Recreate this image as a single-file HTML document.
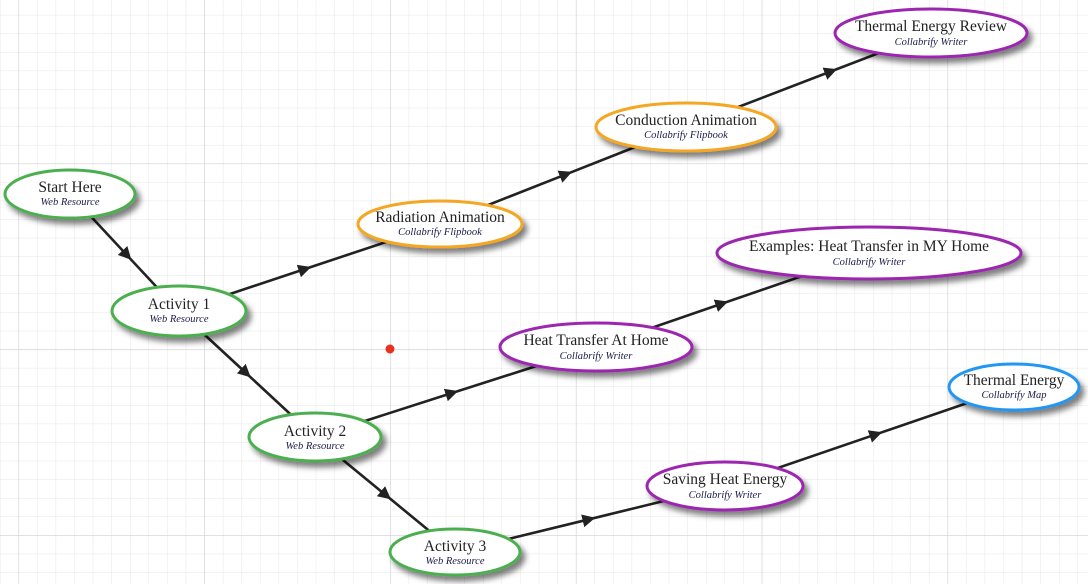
<!DOCTYPE html>
<html><head><meta charset="utf-8"><style>
html,body{margin:0;padding:0;background:#fff;}
svg{display:block;}
.t{font-family:"Liberation Serif",serif;font-size:15.5px;fill:#222;text-anchor:middle;}
.s{font-family:"Liberation Serif",serif;font-size:10.5px;font-style:italic;fill:#1a1a4a;text-anchor:middle;}
</style></head><body>
<svg width="1088" height="584" viewBox="0 0 1088 584" xmlns="http://www.w3.org/2000/svg">
<defs>
<pattern id="minor" x="18.5" y="163.5" width="18.58" height="18.58" patternUnits="userSpaceOnUse">
<path d="M0 0H18.58M0 0V18.58" stroke="#e6e6e6" stroke-width="1" fill="none"/>
</pattern>
<pattern id="major" x="18.5" y="163.5" width="185.8" height="185.8" patternUnits="userSpaceOnUse">
<path d="M0 0H185.8M0 0V185.8" stroke="#d2d2d2" stroke-width="1.2" fill="none"/>
</pattern>
<filter id="sh" x="-20%" y="-30%" width="150%" height="190%">
<feDropShadow dx="4" dy="5" stdDeviation="3" flood-color="#000" flood-opacity="0.5"/>
</filter>
<marker id="ar" viewBox="0 0 10 10" refX="5" refY="5" markerWidth="5" markerHeight="5" orient="auto">
<path d="M0 0L10 5L0 10z" fill="#222"/>
</marker>
</defs>
<rect width="1088" height="584" fill="url(#minor)"/>
<rect width="1088" height="584" fill="url(#major)"/>
<g stroke="#222" stroke-width="2.6" fill="none" marker-mid="url(#ar)">
<polyline points="70,194 127,255.2 179,311"/>
<polyline points="179,311 305,269 440,224"/>
<polyline points="440,224 566,174.3 686,127"/>
<polyline points="686,127 831,71.4 931,33"/>
<polyline points="179,311 246,373 315,437"/>
<polyline points="315,437 452,393 596,347"/>
<polyline points="596,347 722,303.6 869,253"/>
<polyline points="315,437 386,495.3 455,552"/>
<polyline points="455,552 589,519.3 725,486"/>
<polyline points="725,486 876,434.3 1014,387"/>
</g>
<circle cx="390" cy="349" r="4.5" fill="#e8321e"/>
<g stroke-width="3" fill="#fff" filter="url(#sh)">
<ellipse cx="70" cy="194" rx="65" ry="24" stroke="#4caf50"/>
<ellipse cx="179" cy="311" rx="67" ry="25" stroke="#4caf50"/>
<ellipse cx="315" cy="437" rx="66" ry="24" stroke="#4caf50"/>
<ellipse cx="455" cy="552" rx="65" ry="23" stroke="#4caf50"/>
<ellipse cx="440" cy="224" rx="82" ry="23" stroke="#f5a623"/>
<ellipse cx="686" cy="127" rx="90" ry="24" stroke="#f5a623"/>
<ellipse cx="931" cy="33" rx="96" ry="24" stroke="#9c27b0"/>
<ellipse cx="869" cy="253" rx="152" ry="26" stroke="#9c27b0"/>
<ellipse cx="596" cy="347" rx="96" ry="24" stroke="#9c27b0"/>
<ellipse cx="725" cy="486" rx="78" ry="24" stroke="#9c27b0"/>
<ellipse cx="1014" cy="387" rx="65" ry="23" stroke="#2196f3"/>
</g>
<text class="t" x="70" y="192">Start Here</text><text class="s" x="70" y="205">Web Resource</text>
<text class="t" x="179" y="309">Activity 1</text><text class="s" x="179" y="322">Web Resource</text>
<text class="t" x="315" y="436">Activity 2</text><text class="s" x="315" y="449">Web Resource</text>
<text class="t" x="455" y="551">Activity 3</text><text class="s" x="455" y="564">Web Resource</text>
<text class="t" x="440" y="222">Radiation Animation</text><text class="s" x="440" y="235">Collabrify Flipbook</text>
<text class="t" x="686" y="125">Conduction Animation</text><text class="s" x="686" y="138">Collabrify Flipbook</text>
<text class="t" x="931" y="31">Thermal Energy Review</text><text class="s" x="931" y="45">Collabrify Writer</text>
<text class="t" x="869" y="251">Examples: Heat Transfer in MY Home</text><text class="s" x="869" y="265">Collabrify Writer</text>
<text class="t" x="596" y="345">Heat Transfer At Home</text><text class="s" x="596" y="359">Collabrify Writer</text>
<text class="t" x="725" y="484">Saving Heat Energy</text><text class="s" x="725" y="498">Collabrify Writer</text>
<text class="t" x="1014" y="385">Thermal Energy</text><text class="s" x="1014" y="398">Collabrify Map</text>
</svg>
</body></html>
